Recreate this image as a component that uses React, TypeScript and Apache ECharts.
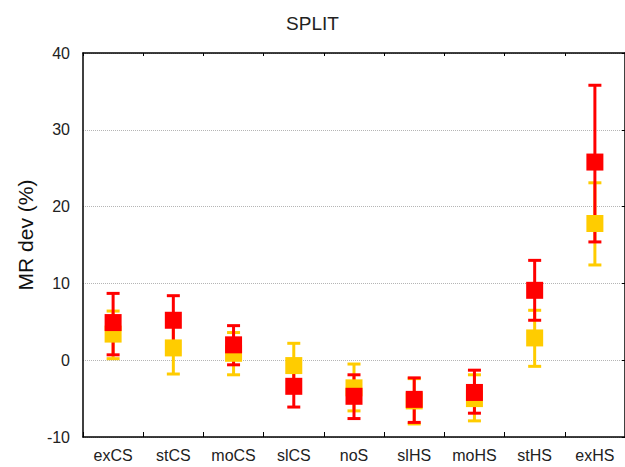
import React, { useEffect, useRef } from "react";
import * as echarts from "echarts";

const categories = ["exCS", "stCS", "moCS", "slCS", "noS", "slHS", "moHS", "stHS", "exHS"];
const yTicks = [-10, 0, 10, 20, 30, 40];

const redMean = [4.9, 5.2, 2.0, -3.4, -4.7, -5.1, -4.2, 9.1, 25.8];
const redLow = [0.7, 1.9, -0.6, -6.1, -7.6, -8.1, -6.9, 5.2, 15.4];
const redHigh = [8.7, 8.4, 4.5, -0.8, -1.9, -2.3, -1.3, 13.0, 35.8];

const yellowMean = [3.4, 1.6, 0.9, -0.7, -3.6, -5.3, -5.0, 2.9, 17.8];
const yellowLow = [0.2, -1.8, -1.9, -3.6, -6.6, -8.3, -7.9, -0.8, 12.4];
const yellowHigh = [6.4, 5.0, 3.6, 2.2, -0.5, -2.4, -1.9, 6.5, 23.1];

const RED = "#ff0000";
const YELLOW = "#ffcc00";
const FONT = "'Liberation Sans', Arial, sans-serif";

function errorSeries(low: number[], high: number[], color: string) {
  return {
    type: "custom",
    xAxisIndex: 0,
    yAxisIndex: 0,
    silent: true,
    data: categories.map((_, i) => [i, low[i], high[i]]),
    encode: { x: 0, y: [1, 2] },
    renderItem: (params: any, api: any) => {
      const x = api.value(0);
      const pHi = api.coord([x, api.value(2)]);
      const pLo = api.coord([x, api.value(1)]);
      const hw = 6.5;
      const style = { stroke: color, lineWidth: 3 };
      return {
        type: "group",
        children: [
          { type: "line", shape: { x1: pHi[0], y1: pHi[1], x2: pLo[0], y2: pLo[1] }, style },
          { type: "line", shape: { x1: pHi[0] - hw, y1: pHi[1], x2: pHi[0] + hw, y2: pHi[1] }, style },
          { type: "line", shape: { x1: pLo[0] - hw, y1: pLo[1], x2: pLo[0] + hw, y2: pLo[1] }, style },
        ],
      };
    },
  };
}

function meanSeries(values: number[], color: string) {
  return {
    type: "scatter",
    xAxisIndex: 0,
    yAxisIndex: 0,
    silent: true,
    symbol: "rect",
    symbolSize: 17,
    itemStyle: { color, opacity: 1 },
    data: values,
  };
}

export default function App() {
  const ref = useRef<HTMLDivElement>(null);
  useEffect(() => {
    if (!ref.current) return;
    const chart = echarts.init(ref.current, undefined, { renderer: "svg" });
    chart.setOption({
      animation: false,
      backgroundColor: "#ffffff",
      title: {
        text: "SPLIT",
        left: "center",
        top: 9,
        textStyle: { fontFamily: FONT, fontSize: 19, fontWeight: "normal", color: "#222" },
      },
      grid: { left: 83, top: 53, width: 543, height: 384, containLabel: false },
      xAxis: [
        {
          type: "category",
          data: categories,
          position: "bottom",
          boundaryGap: true,
          axisLine: { show: true, onZero: false, lineStyle: { color: "#000", width: 1.5 } },
          axisTick: { show: true, inside: true, length: 5, lineStyle: { color: "#000", width: 1 } },
          axisLabel: { fontFamily: FONT, fontSize: 16, color: "#222", margin: 10 },
          splitLine: { show: false },
        },
        {
          type: "category",
          data: categories,
          position: "top",
          boundaryGap: true,
          axisLine: { show: true, onZero: false, lineStyle: { color: "#000", width: 1.5 } },
          axisTick: { show: true, inside: true, length: 3, lineStyle: { color: "#000", width: 1 } },
          axisLabel: { show: false },
          splitLine: { show: false },
        },
      ],
      yAxis: [
        {
          type: "value",
          min: yTicks[0],
          max: yTicks[yTicks.length - 1],
          interval: 10,
          position: "left",
          name: "MR dev (%)",
          nameLocation: "middle",
          nameRotate: 90,
          nameGap: 46,
          nameTextStyle: { fontFamily: FONT, fontSize: 21, color: "#111", padding: [0, 0, 0, 20] },
          axisLine: { show: true, onZero: false, lineStyle: { color: "#000", width: 1.5 } },
          axisTick: { show: false },
          axisLabel: { fontFamily: FONT, fontSize: 16, color: "#222", margin: 13 },
          splitLine: { show: true, lineStyle: { color: "#b5b5b5", type: "dotted", width: 1 } },
        },
        {
          type: "value",
          min: yTicks[0],
          max: yTicks[yTicks.length - 1],
          interval: 10,
          position: "right",
          axisLine: { show: true, onZero: false, lineStyle: { color: "#000", width: 1.5 } },
          axisTick: { show: true, inside: true, length: 3, lineStyle: { color: "#000" } },
          axisLabel: { show: false },
          splitLine: { show: false },
        },
      ],
      series: [
        errorSeries(yellowLow, yellowHigh, YELLOW),
        meanSeries(yellowMean, YELLOW),
        errorSeries(redLow, redHigh, RED),
        meanSeries(redMean, RED),
      ],
    });
    return () => chart.dispose();
  }, []);
  return (
    <div
      ref={ref}
      style={{ position: "absolute", left: 0, top: 0, width: 625, height: 467 }}
    />
  );
}
